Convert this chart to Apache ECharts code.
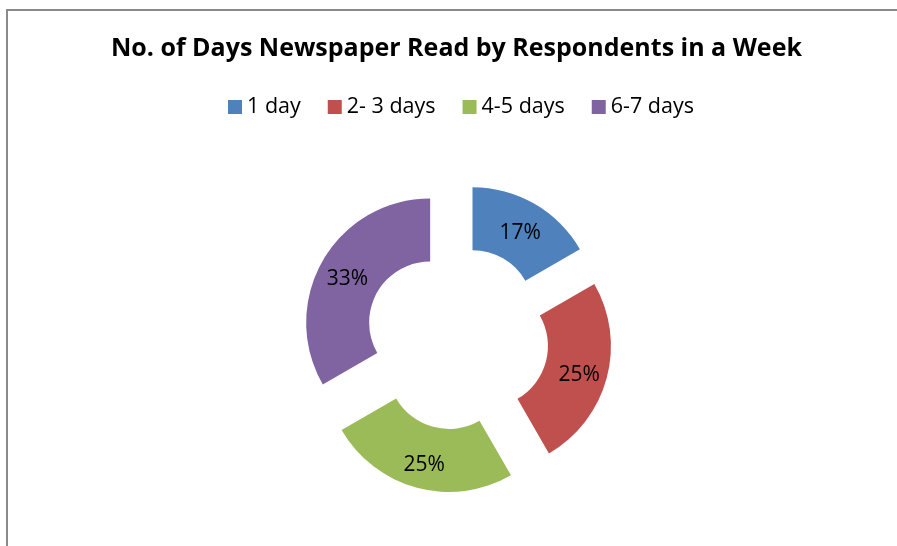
<!DOCTYPE html>
<html>
<head>
<meta charset="utf-8">
<style>
  html, body { margin: 0; padding: 0; background: #fff; }
  #chart { width: 897px; height: 546px; }
</style>
<script src="https://cdn.jsdelivr.net/npm/echarts@6/dist/echarts.min.js"></script>
</head>
<body>
<div id="chart"></div>
<script>
// Respondent counts per reading frequency
const categories = ['1 day', '2- 3 days', '4-5 days', '6-7 days'];
const respondents = [2, 3, 3, 4];
const colors = ['#4F81BD', '#C0504D', '#9BBB59', '#8064A2'];

const chart = echarts.init(document.getElementById('chart'), null, { renderer: 'canvas' });

const FONT = '"Open Sans", sans-serif';

chart.setOption({
  animation: false,
  backgroundColor: '#ffffff',
  color: colors,
  title: {
    text: 'No. of Days Newspaper Read by Respondents in a Week',
    left: 111,
    top: 36,
    padding: 0,
    textStyle: { fontFamily: FONT, fontSize: 25, fontWeight: 'bold', color: '#000' }
  },
  legend: {
    data: categories,
    left: 228,
    top: 96,
    padding: 0,
    icon: 'rect',
    itemWidth: 14,
    itemHeight: 14,
    itemGap: 27,
    textStyle: { fontFamily: FONT, fontSize: 21.5, color: '#000' }
  },
  graphic: [{
    // chart frame: left and top edges
    type: 'polyline',
    shape: { points: [[7, 560], [7, 10], [900, 10]] },
    style: { fill: null, stroke: '#8a8a8a', lineWidth: 2 },
    silent: true
  }],
  series: [{
    type: 'pie',
    center: [457, 338],
    radius: [61, 124],
    startAngle: 90,
    clockwise: true,
    selectedMode: 'multiple',
    selectedOffset: 31,
    percentPrecision: 0,
    emphasis: { disabled: true },
    labelLine: { show: false },
    label: {
      show: true,
      position: 'inside',
      formatter: '{pct|{d}%}',
      rich: {
        pct: {
          fontFamily: FONT,
          fontSize: 21,
          color: '#000',
          padding: [9, 0, 0, 0]
        }
      }
    },
    data: categories.map((name, i) => ({ name, value: respondents[i], selected: true }))
  }]
});
</script>
</body>
</html>
